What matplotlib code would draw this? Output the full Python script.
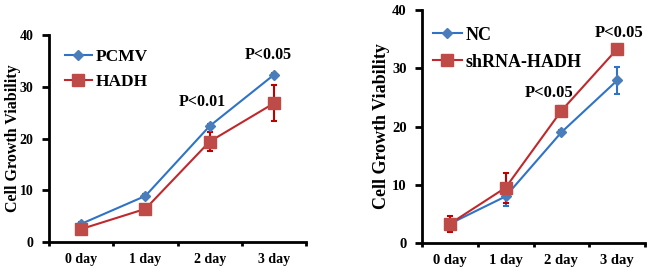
import matplotlib
matplotlib.use('Agg')
import matplotlib.pyplot as plt
from matplotlib.lines import Line2D

days = ['0 day', '1 day', '2 day', '3 day']

# left panel
pcmv = [3.5, 8.9, 22.4, 32.3]
pcmv_err = [0.3, 0.4, 0.4, 0.3]
hadh = [2.5, 6.4, 19.4, 26.8]
hadh_err = [0.4, 0.4, 1.9, 3.5]
left_p = ['P<0.01', 'P<0.05']

# right panel
nc = [3.3, 8.0, 19.0, 27.9]
nc_err = [0.5, 1.7, 0.4, 2.4]
sh = [3.3, 9.5, 22.7, 33.3]
sh_err = [1.4, 2.6, 0.8, 0.3]
right_p = ['P<0.05', 'P<0.05']

BLUE_LINE, BLUE_MK = '#2F73C6', '#4A7EBB'
RED_LINE, RED_MK = '#C0282C', '#BE4B48'

plt.rcParams['font.family'] = 'Liberation Serif'
plt.rcParams['font.weight'] = 'bold'

fig = plt.figure(figsize=(6.5, 2.75), dpi=100)
ax1 = fig.add_axes([49 / 650, 33 / 275, 257 / 650, 207 / 275])
ax2 = fig.add_axes([422 / 650, 32 / 275, 223 / 650, 233 / 275])


def panel(ax, s1, e1, s2, e2, names, ptext, ppos, fs, yfs, sq, leg_anchor, lab_x):
    x = [i + 0.5 for i in range(len(days))]
    ax.errorbar(x, s1, yerr=e1, color=BLUE_LINE, marker='D', ms=5.5, mfc=BLUE_MK,
                mec=BLUE_MK, lw=1.5, ecolor=BLUE_LINE, elinewidth=1.5, capsize=2.5,
                capthick=1.5)
    ax.errorbar(x, s2, yerr=e2, color=RED_LINE, marker='s', ms=sq, mfc=RED_MK,
                mec=RED_MK, lw=1.5, ecolor='#C00000', elinewidth=1.5, capsize=2.5,
                capthick=1.5)
    ax.set_xlim(0, 4)
    ax.set_ylim(0, 40)
    ax.set_yticks([0, 10, 20, 30, 40])
    ax.set_xticks([0, 1, 2, 3, 4])
    ax.set_xticklabels([])
    ax.set_xticks(x, minor=True)
    ax.set_xticklabels(days, minor=True)
    ax.tick_params(axis='x', which='minor', length=0, pad=8, labelsize=fs)
    ax.tick_params(axis='x', which='major', direction='out', length=3, width=2)
    ax.tick_params(axis='y', direction='out', length=5, width=2, labelsize=fs, pad=6)
    for s in ['top', 'right']:
        ax.spines[s].set_visible(False)
    for s in ['left', 'bottom']:
        ax.spines[s].set_linewidth(2)
    ax.set_ylabel('Cell Growth Viability', fontsize=yfs, fontweight='bold')
    ax.yaxis.set_label_coords(lab_x, 0.5)
    for (px, py), t in zip(ppos, ptext):
        ax.text(px, py, t, ha='center', va='center', fontsize=fs + 1.5, fontweight='bold')
    handles = [
        Line2D([], [], color=BLUE_LINE, lw=1.5, marker='D', ms=5.5, mfc=BLUE_MK, mec=BLUE_MK),
        Line2D([], [], color=RED_LINE, lw=1.5, marker='s', ms=sq, mfc=RED_MK, mec=RED_MK),
    ]
    ax.legend(handles, names, loc='upper left', bbox_to_anchor=leg_anchor, frameon=False,
              fontsize=fs + 2.5, handlelength=1.6, handletextpad=0.2,
              labelspacing=0.55, borderaxespad=0.2)


panel(ax1, pcmv, pcmv_err, hadh, hadh_err, ['PCMV', 'HADH'], left_p,
      [(2.38, 27.0), (3.42, 36.1)], 10, 11.5, 8, (0.02, 0.985), -0.11)
panel(ax2, nc, nc_err, sh, sh_err, ['NC', 'shRNA-HADH'], right_p,
      [(2.28, 25.8), (3.53, 36.05)], 10.5, 13, 9, (0.0, 0.975), -0.143)
for ax in (ax1, ax2):
    for lab in ax.get_xticklabels(minor=True) + ax.get_yticklabels():
        lab.set_fontweight('bold')

fig.savefig('out.png', dpi=100)
